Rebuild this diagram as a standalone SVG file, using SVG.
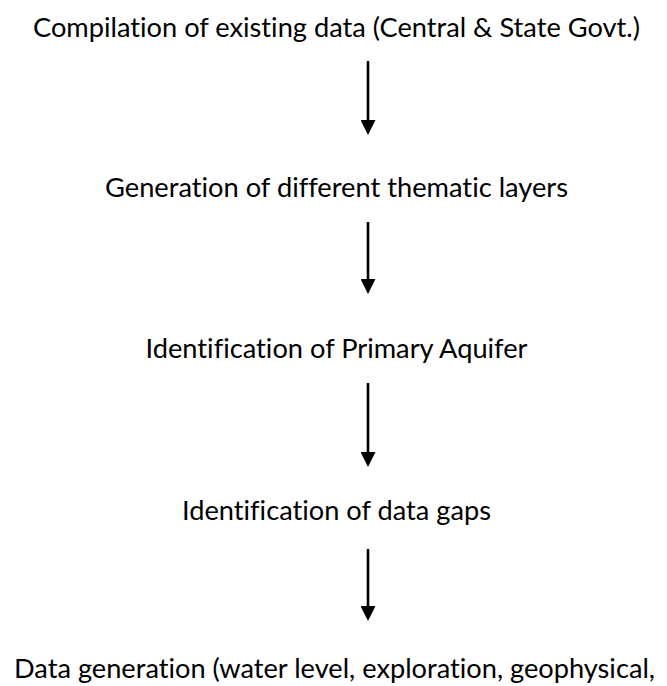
<svg xmlns="http://www.w3.org/2000/svg" width="667" height="686" viewBox="0 0 667 686">
  <defs>
    <style>
      .lbl { font-family: Lato, "Open Sans", "Liberation Sans", sans-serif; font-size: 26.5px; fill: #000; text-anchor: middle; font-variant-ligatures: none; font-feature-settings: "liga" 0, "clig" 0; }
      .conn { stroke: #000; stroke-width: 2.6; fill: none; marker-end: url(#arrow); }
    </style>
    <marker id="arrow" viewBox="0 0 15 15" refX="0" refY="7.5" markerWidth="15" markerHeight="15" markerUnits="userSpaceOnUse" orient="auto">
      <path d="M0,0 L15,7.5 L0,15 Z" fill="#000"/>
    </marker>
  </defs>
  <rect width="667" height="686" fill="#fff"/>
  <g id="node1"><text class="lbl" x="336.5" y="37" textLength="607" lengthAdjust="spacingAndGlyphs">Compilation of existing data (Central &amp; State Govt.)</text></g>
  <g id="node2"><text class="lbl" x="336.5" y="197" textLength="463" lengthAdjust="spacingAndGlyphs">Generation of different thematic layers</text></g>
  <g id="node3"><text class="lbl" x="336.5" y="358" textLength="382" lengthAdjust="spacingAndGlyphs">Identification of Primary Aquifer</text></g>
  <g id="node4"><text class="lbl" x="336.5" y="520" textLength="309" lengthAdjust="spacingAndGlyphs">Identification of data gaps</text></g>
  <g id="node5"><text class="lbl" x="334.5" y="678" textLength="641" lengthAdjust="spacingAndGlyphs">Data generation (water level, exploration, geophysical,</text></g>
  <g id="connectors">
    <line class="conn" x1="368" y1="61" x2="368" y2="120"/>
    <line class="conn" x1="368" y1="222" x2="368" y2="279"/>
    <line class="conn" x1="368" y1="383" x2="368" y2="452"/>
    <line class="conn" x1="368" y1="549" x2="368" y2="606"/>
  </g>
</svg>
